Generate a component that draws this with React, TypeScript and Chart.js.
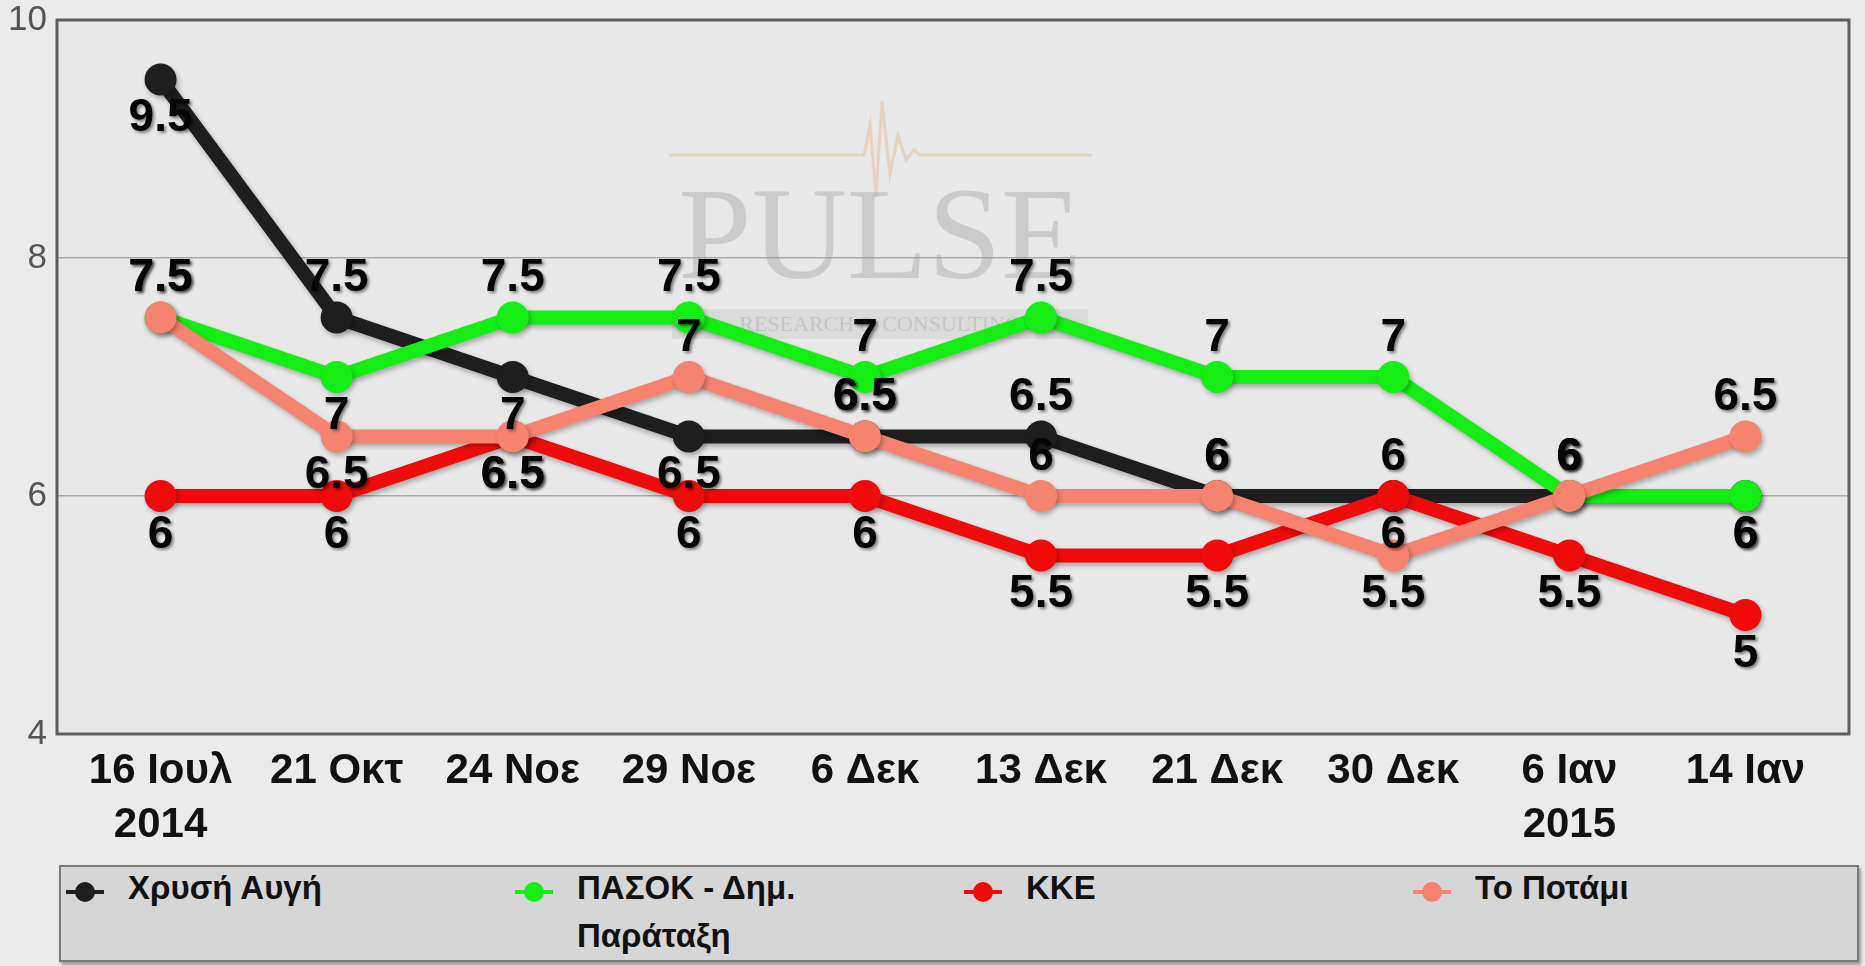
import React, { useEffect, useRef } from 'react';
import { Chart, registerables } from 'chart.js';

Chart.register(...registerables);

const FONT = '"Liberation Sans", Arial, sans-serif';

const CATEGORIES: (string | string[])[] = [
  ['16 Ιουλ', '2014'], '21 Οκτ', '24 Νοε', '29 Νοε', '6 Δεκ',
  '13 Δεκ', '21 Δεκ', '30 Δεκ', ['6 Ιαν', '2015'], '14 Ιαν',
];
const SERIES_NAMES = ['Χρυσή Αυγή', 'ΠΑΣΟΚ - Δημ. Παράταξη', 'ΚΚΕ', 'Το Ποτάμι'];
const GOLDEN_DAWN = [9.5, 7.5, 7, 6.5, 6.5, 6.5, 6, 6, 6, 6];
const PASOK = [7.5, 7, 7.5, 7.5, 7, 7.5, 7, 7, 6, 6];
const KKE = [6, 6, 6.5, 6, 6, 5.5, 5.5, 6, 5.5, 5];
const POTAMI = [7.5, 6.5, 6.5, 7, 6.5, 6, 6, 5.5, 6, 6.5];
const Y_TICKS = [4, 6, 8, 10];

// styling: colours and label placement (a = above, b = below)
const COLORS = ['#1e1e1e', '#14ee14', '#f00a0a', '#f6836f'];
const LABEL_SIDES = [
  'babbaaabab',
  'abaaaaaaab',
  'bbbbbbbabb',
  'abbaaaabaa',
];

export default function App() {
  const canvasRef = useRef<HTMLCanvasElement | null>(null);

  useEffect(() => {
    const canvas = canvasRef.current;
    if (!canvas) return;
    const seriesValues = [GOLDEN_DAWN, PASOK, KKE, POTAMI];

    const backgroundPlugin = {
      id: 'plotBg',
      beforeDraw(chart: any) {
        const { ctx, chartArea: a } = chart;
        ctx.save();
        ctx.fillStyle = '#e8e8e8';
        ctx.fillRect(a.left, a.top, a.right - a.left, a.bottom - a.top);
        ctx.restore();
      },
      beforeDatasetsDraw(chart: any) {
        const { ctx, chartArea: a } = chart;
        ctx.save();
        // watermark
        const cx = 874;
        ctx.strokeStyle = 'rgba(225,190,150,0.5)';
        ctx.lineWidth = 3;
        ctx.beginPath();
        ctx.moveTo(cx - 205, 155);
        ctx.lineTo(cx - 10, 155);
        ctx.lineTo(cx - 4, 125);
        ctx.lineTo(cx + 2, 196);
        ctx.lineTo(cx + 8, 101);
        ctx.lineTo(cx + 16, 175);
        ctx.lineTo(cx + 24, 135);
        ctx.lineTo(cx + 32, 160);
        ctx.lineTo(cx + 40, 150);
        ctx.lineTo(cx + 46, 155);
        ctx.lineTo(cx + 218, 155);
        ctx.stroke();
        ctx.fillStyle = 'rgba(160,160,160,0.4)';
        ctx.font = '132px "Liberation Serif", "DejaVu Serif", serif';
        ctx.textAlign = 'center';
        ctx.textBaseline = 'alphabetic';
        ctx.fillText('PULSE', cx + 6, 278);
        ctx.fillStyle = 'rgba(200,200,200,0.4)';
        ctx.fillRect(cx - 202, 309, 416, 30);
        ctx.fillStyle = 'rgba(165,165,165,0.4)';
        ctx.font = '22px "Liberation Serif", serif';
        ctx.textBaseline = 'middle';
        ctx.fillText('RESEARCH & CONSULTING', cx + 6, 325);
        // frame
        ctx.strokeStyle = '#5e5e5e';
        ctx.lineWidth = 3;
        ctx.strokeRect(a.left, a.top, a.right - a.left, a.bottom - a.top);
        ctx.restore();
      },
      beforeDatasetDraw(chart: any) {
        const ctx = chart.ctx;
        ctx.save();
        ctx.shadowColor = 'rgba(0,0,0,0.28)';
        ctx.shadowBlur = 5;
        ctx.shadowOffsetX = 2;
        ctx.shadowOffsetY = 3;
      },
      afterDatasetDraw(chart: any) {
        chart.ctx.restore();
      },
      afterDatasetsDraw(chart: any) {
        const ctx = chart.ctx;
        ctx.save();
        ctx.font = `bold 46px ${FONT}`;
        ctx.textAlign = 'center';
        ctx.textBaseline = 'middle';
        ctx.shadowColor = 'rgba(0,0,0,0.45)';
        ctx.shadowBlur = 3;
        ctx.shadowOffsetX = 2;
        ctx.shadowOffsetY = 2;
        ctx.fillStyle = '#050505';
        chart.data.datasets.forEach((ds: any, di: number) => {
          const meta = chart.getDatasetMeta(di);
          meta.data.forEach((pt: any, i: number) => {
            const v = seriesValues[di][i];
            const off = LABEL_SIDES[di][i] === 'a' ? -39 : 39;
            ctx.fillText(String(v), pt.x, pt.y + off);
          });
        });
        ctx.restore();
      },
    };

    const chart = new Chart(canvas, {
      type: 'line',
      data: {
        datasets: seriesValues.map((vals, di) => ({
          label: SERIES_NAMES[di],
          data: vals.map((v, i) => ({ x: i, y: v })),
          borderColor: COLORS[di],
          backgroundColor: COLORS[di],
          pointBackgroundColor: COLORS[di],
          pointBorderColor: COLORS[di],
          borderWidth: 14,
          pointRadius: 16,
          pointBorderWidth: 0,
          pointHoverRadius: 16,
          tension: 0,
          fill: false,
          order: 4 - di,
          clip: false as any,
        })),
      },
      options: {
        animation: false,
        responsive: true,
        maintainAspectRatio: false,
        layout: { padding: { top: 20, right: 6, left: 0, bottom: 0 } },
        plugins: {
          legend: { display: false },
          tooltip: { enabled: false },
        },
        scales: {
          x: {
            type: 'linear',
            min: -0.588,
            max: 9.588,
            afterBuildTicks: (s: any) => {
              s.ticks = CATEGORIES.map((_, i) => ({ value: i }));
            },
            afterFit: (s: any) => {
              s.height = 126;
            },
            grid: { display: false },
            border: { display: false },
            ticks: {
              autoSkip: false,
              maxRotation: 0,
              padding: 2,
              color: '#111',
              font: { family: FONT, size: 42, weight: 'bold', lineHeight: 1.3 },
              callback: (v: any) => CATEGORIES[Math.round(Number(v))] as any,
            },
          },
          y: {
            min: 4,
            max: 10,
            afterBuildTicks: (s: any) => {
              s.ticks = Y_TICKS.map((v) => ({ value: v }));
            },
            afterFit: (s: any) => {
              s.width = 57;
            },
            grid: {
              drawTicks: false,
              lineWidth: 1.5,
              color: (c: any) =>
                c.tick && (c.tick.value === 6 || c.tick.value === 8) ? '#a9a9a9' : 'rgba(0,0,0,0)',
            },
            border: { display: false },
            ticks: {
              padding: 10,
              color: '#555',
              font: { family: FONT, size: 35, lineHeight: 0.5 },
            },
          },
        },
      } as any,
      plugins: [backgroundPlugin],
    });

    return () => chart.destroy();
  }, []);

  return (
    <div
      style={{
        position: 'absolute',
        left: 0,
        top: 0,
        width: 1865,
        height: 966,
        background: '#ebebeb',
        fontFamily: FONT,
        overflow: 'hidden',
      }}
    >
      <div style={{ position: 'absolute', left: 0, top: 0, width: 1865, height: 860 }}>
        <canvas ref={canvasRef} />
      </div>
      <div
        style={{
          position: 'absolute',
          left: 59,
          top: 865,
          width: 1796,
          height: 93,
          background: '#d6d6d6',
          border: '2px solid #7a7a7a',
          boxShadow: '2px 3px 3px rgba(0,0,0,0.35)',
          display: 'flex',
        }}
      >
        {SERIES_NAMES.map((name, i) => (
          <div key={name} style={{ width: 450, display: 'flex', alignItems: 'flex-start' }}>
            <div style={{ position: 'relative', width: 38, height: 50, marginLeft: 5, marginTop: 0, flex: 'none' }}>
              <div
                style={{
                  position: 'absolute',
                  left: 0,
                  top: 23,
                  width: 38,
                  height: 4,
                  background: COLORS[i],
                }}
              />
              <div
                style={{
                  position: 'absolute',
                  left: 9,
                  top: 15,
                  width: 20,
                  height: 20,
                  borderRadius: 10,
                  background: COLORS[i],
                }}
              />
            </div>
            <div
              style={{
                marginLeft: 24,
                marginTop: -3,
                width: 250,
                fontSize: 33,
                fontWeight: 'bold',
                lineHeight: '48px',
                color: '#111',
              }}
            >
              {name}
            </div>
          </div>
        ))}
      </div>
    </div>
  );
}
